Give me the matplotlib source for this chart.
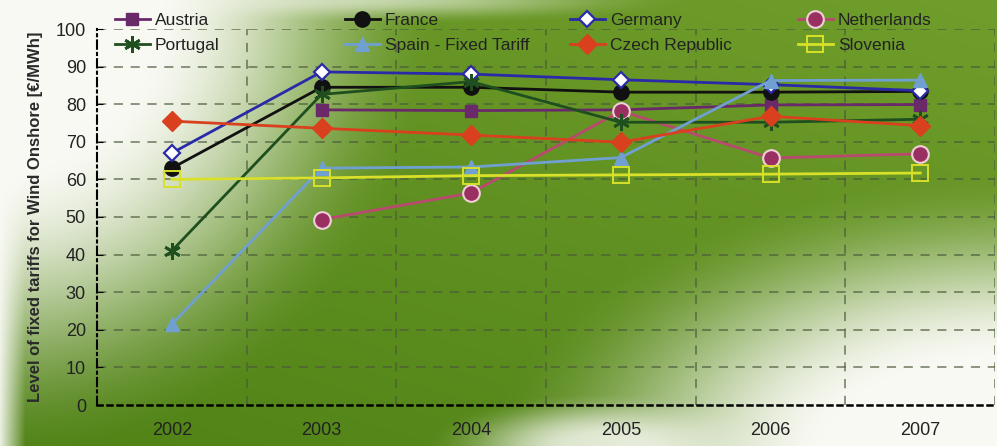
import numpy as np
import matplotlib
matplotlib.use("Agg")
import matplotlib.pyplot as plt

plt.rcParams['font.family'] = ['Liberation Sans', 'DejaVu Sans']

years = ['2002', '2003', '2004', '2005', '2006', '2007']
austria = [np.nan, 78.5, 78.3, 78.5, 79.8, 79.9]
france = [63.0, 84.5, 84.5, 83.2, 83.2, 83.4]
germany = [67.0, 88.6, 88.0, 86.5, 85.2, 83.6]
netherlands = [np.nan, 49.3, 56.4, 78.2, 65.7, 66.8]
portugal = [41.0, 82.6, 86.0, 75.2, 75.2, 76.0]
spain = [21.5, 63.0, 63.3, 65.8, 86.3, 86.4]
czech = [75.5, 73.6, 71.8, 69.9, 76.8, 74.3]
slovenia = [60.0, 60.4, 61.0, 61.2, 61.4, 61.7]
yticks = list(range(0, 101, 10))

W, H = 997, 446
fig = plt.figure(figsize=(W / 100, H / 100), dpi=100)

# background gradient
yy, xx = np.mgrid[0:H, 0:W].astype(float)
green = np.array([112, 158, 44]) / 255.0
dark = np.array([80, 130, 22]) / 255.0
t = np.clip((yy / H) * 0.6 + (1 - xx / W) * 0.4, 0, 1)
base = green[None, None, :] * (1 - t[..., None]) + dark[None, None, :] * t[..., None]

def spot(cx, cy, sx, sy, gain):
    d = np.sqrt(((xx - cx) / sx) ** 2 + ((yy - cy) / sy) ** 2)
    s = np.clip((1 - d) * gain, 0, 1)
    return s * s * (3 - 2 * s)

w1 = spot(0, 0, 440, 470, 1.5)
w2 = spot(1010, 460, 530, 290, 1.5)
w3 = spot(600, 446, 180, 55, 1.2) * 0.8
w4 = np.clip(1 - xx / 25, 0, 1) * 0.9
w5 = spot(380, 0, 320, 24, 1.0) * 0.6
wh = 1 - (1 - w1) * (1 - w2) * (1 - w3) * (1 - w4) * (1 - w5)
img = base * (1 - wh[..., None]) + np.array([0.98, 0.98, 0.96])[None, None, :] * wh[..., None]
bgax = fig.add_axes([0, 0, 1, 1])
bgax.imshow(img, aspect='auto', extent=[0, W, H, 0], interpolation='bilinear')
bgax.axis('off')

ax = fig.add_axes([97 / W, 1 - 405 / H, (995 - 97) / W, (405 - 29) / H])
ax.patch.set_alpha(0)
x = np.arange(len(years))

series = [
    ('Austria', austria, dict(color='#6a2a6a', marker='s', mfc='#6a2a6a', mec='#6a2a6a', ms=9)),
    ('France', france, dict(color='#111111', marker='o', mfc='#111111', mec='#111111', ms=11)),
    ('Germany', germany, dict(color='#2a2aa8', marker='D', mfc='white', mec='#2a2aa8', ms=8, mew=1.6)),
    ('Netherlands', netherlands, dict(color='#b84a70', marker='o', mfc='#9a2f62', mec='#f0d0d8', ms=12, mew=1.5)),
    ('Portugal', portugal, dict(color='#1f4f1f', marker=(6, 2, 0), mfc='#1f4f1f', mec='#1f4f1f', ms=12, mew=2)),
    ('Spain - Fixed Tariff', spain, dict(color='#6fa0d0', marker='^', mfc='#6fa0d0', mec='#6fa0d0', ms=10)),
    ('Czech Republic', czech, dict(color='#d8401e', marker='D', mfc='#d8401e', mec='#d8401e', ms=10)),
    ('Slovenia', slovenia, dict(color='#d8e02a', marker='s', mfc='none', mec='#d8e02a', ms=11, mew=1.4)),
]
handles = {}
for name, vals, st in series:
    (h,) = ax.plot(x, vals, lw=2, label=name, **st)
    handles[name] = h

ax.set_xlim(-0.5, 5.5)
ax.set_ylim(0, 100)
ax.set_yticks(yticks)
ax.set_yticklabels([str(v) for v in yticks], fontsize=13, color='#222222')
ax.set_xticks(x)
ax.set_xticklabels(years, fontsize=13, color='#222222')
ax.tick_params(axis='x', length=0, pad=12)
ax.tick_params(axis='y', length=4, direction='in', pad=8)

for v in yticks[1:]:
    ax.axhline(v, color='#4a5a3a', lw=1.1, ls=(0, (6, 5)), alpha=0.8, zorder=0)
for b in np.arange(0.5, 5.6, 1.0):
    ax.axvline(b, color='#4a5a3a', lw=1.1, ls=(0, (6, 5)), alpha=0.8, zorder=0)

for s in ['top', 'right']:
    ax.spines[s].set_visible(False)
ax.spines['left'].set_linestyle((0, (4, 2, 1, 2)))
ax.spines['left'].set_linewidth(1.5)
ax.spines['bottom'].set_linestyle((0, (2, 2)))
ax.spines['bottom'].set_linewidth(1.8)

ax.set_ylabel('Level of fixed tariffs for Wind Onshore [€/MWh]', fontsize=12,
              fontweight='bold', color='#2a2a2a', labelpad=9)

columns = [(['Austria', 'Portugal'], 115),
           (['France', 'Spain - Fixed Tariff'], 345),
           (['Germany', 'Czech Republic'], 570),
           (['Netherlands', 'Slovenia'], 798)]
for names, px in columns:
    leg = fig.legend([handles[n] for n in names], names, ncol=1, frameon=False,
                     loc='upper left', bbox_to_anchor=(px / W, 1 - 13 / H),
                     fontsize=12.5, handlelength=2.0, handletextpad=0.3,
                     labelspacing=0.55, borderpad=0.0, borderaxespad=0.0)
    for t_ in leg.get_texts():
        t_.set_color('#222222')

fig.savefig('out.png', dpi=100)
